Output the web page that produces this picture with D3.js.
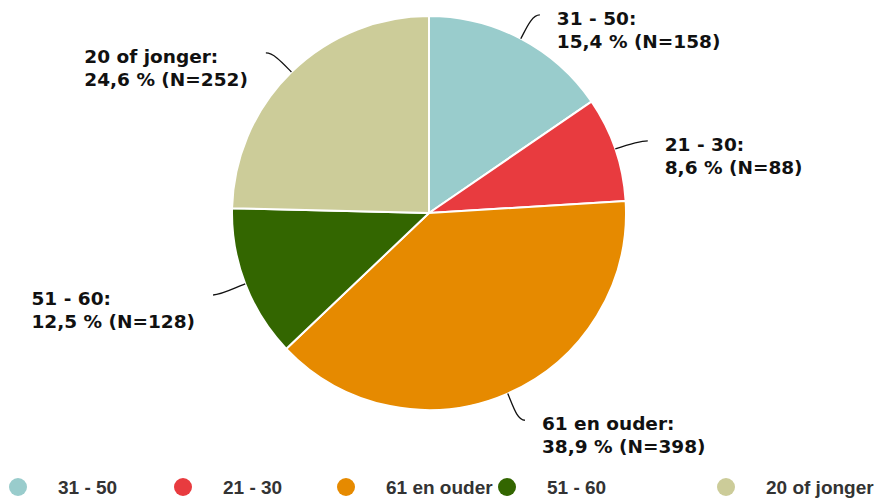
<!DOCTYPE html>
<html>
<head>
<meta charset="utf-8">
<script src="https://cdn.jsdelivr.net/npm/d3@7"></script>
<style>
  html, body { margin: 0; padding: 0; background: #fff; }
  #chart { width: 874px; height: 500px; }
</style>
</head>
<body>
<div id="chart"></div>
<script>
const categories = ["31 - 50", "21 - 30", "61 en ouder", "51 - 60", "20 of jonger"];
const percents = [15.4, 8.6, 38.9, 12.5, 24.6];
const counts = [158, 88, 398, 128, 252];
const colors = ["#99cccc", "#e83b3f", "#e68a00", "#336600", "#cccc99"];

document.addEventListener("DOMContentLoaded", function () {
  const width = 874, height = 500;
  const cx = 429, cy = 213, radius = 197;

  const data = categories.map((c, i) => ({ name: c, pct: percents[i], n: counts[i], color: colors[i] }));

  const svg = d3.select("#chart")
    .append("svg")
    .attr("width", width)
    .attr("height", height);

  const g = svg.append("g").attr("transform", `translate(${cx},${cy})`);

  const pie = d3.pie().sort(null).value(d => d.n);
  const arc = d3.arc().innerRadius(0).outerRadius(radius);
  const arcs = pie(data);

  // slices
  g.selectAll("path.slice")
    .data(arcs)
    .enter()
    .append("path")
    .attr("class", "slice")
    .attr("d", arc)
    .attr("fill", d => d.data.color)
    .attr("stroke", "#fff")
    .attr("stroke-width", 2)
    .attr("stroke-linejoin", "round");

  // labels with connectors
  const fmt = v => v.toFixed(1).replace(".", ",");
  arcs.forEach(d => {
    const a = (d.startAngle + d.endAngle) / 2;
    const sx = Math.sin(a), sy = -Math.cos(a);
    const right = sx >= 0;
    const p0 = [radius * sx, radius * sy];
    const e = [(radius + 28) * sx + (right ? 6 : -6), (radius + 28) * sy + 1];
    const c1 = [(radius + 12) * sx, (radius + 12) * sy];
    const c2 = [e[0] + (right ? -8 : 8), e[1]];

    g.append("path")
      .attr("d", `M${p0[0]},${p0[1]} C${c1[0]},${c1[1]} ${c2[0]},${c2[1]} ${e[0]},${e[1]}`)
      .attr("fill", "none")
      .attr("stroke", "#111")
      .attr("stroke-width", 1.3);

    const t = g.append("text")
      .style("font-family", "'DejaVu Sans', Verdana, sans-serif")
      .style("font-weight", "bold")
      .style("font-size", "18.5px")
      .attr("fill", "#111");
    t.append("tspan").attr("x", 0).attr("y", e[1] + 10).text(d.data.name + ":");
    t.append("tspan").attr("x", 0).attr("y", e[1] + 33).text(`${fmt(d.data.pct)} % (N=${d.data.n})`);

    const w = t.node().getBBox().width;
    const tx = right ? e[0] + 17 : e[0] - 18 - w;
    t.selectAll("tspan").attr("x", tx);
  });

  // legend
  const legendX = [18, 183, 346, 507, 726];
  const legend = svg.append("g").attr("transform", "translate(0,487)");
  data.forEach((d, i) => {
    const item = legend.append("g").attr("transform", `translate(${legendX[i]},0)`);
    item.append("circle").attr("r", 9).attr("fill", d.color);
    item.append("text")
      .attr("x", 40)
      .attr("y", 7)
      .style("font-family", "'Liberation Sans', Arial, sans-serif")
      .style("font-weight", "bold")
      .style("font-size", "19px")
      .attr("fill", "#333")
      .text(d.name);
  });
});
</script>
</body>
</html>
